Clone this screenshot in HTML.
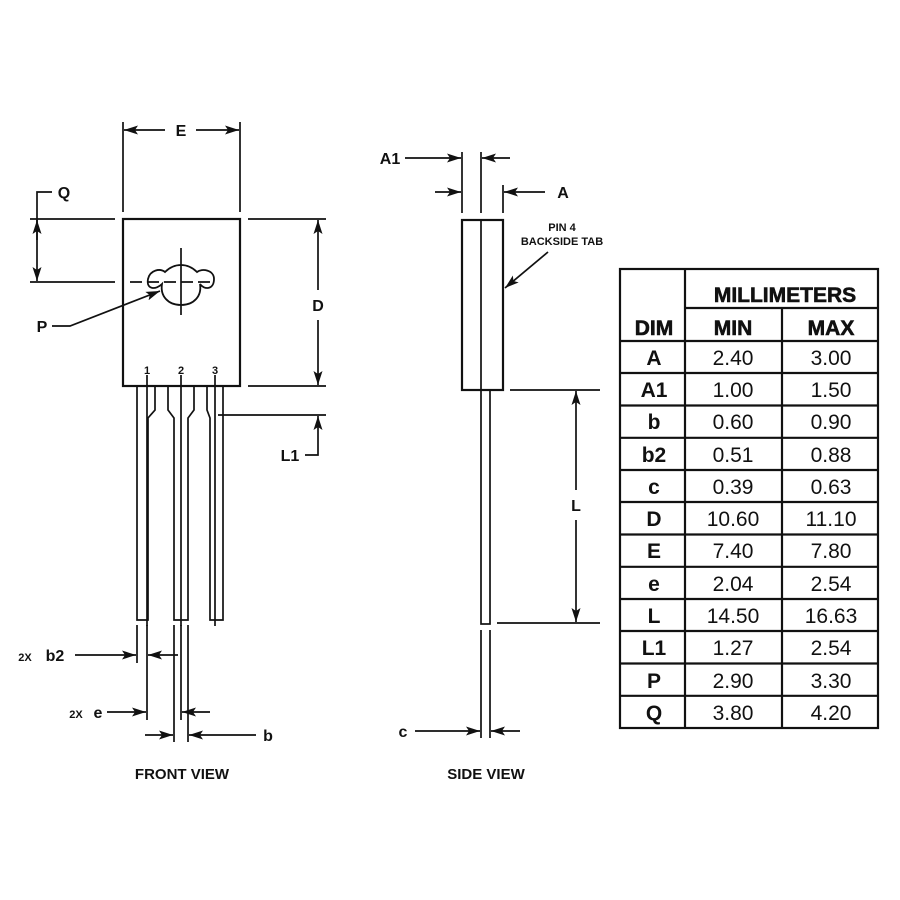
<!DOCTYPE html>
<html><head><style>body{margin:0;background:#fff}svg{display:block}text{font-family:"Liberation Sans",sans-serif;font-weight:bold;fill:#111}</style></head>
<body>
<svg width="900" height="900" viewBox="0 0 900 900" xmlns="http://www.w3.org/2000/svg">
<defs><marker id="ar" markerWidth="14" markerHeight="9" refX="14" refY="4.5" orient="auto" markerUnits="userSpaceOnUse"><path d="M0,0 L14,4.5 L0,9 L3,4.5 Z" fill="#111"/></marker></defs>
<g stroke="#111" stroke-width="1.7" fill="none">
<rect x="123" y="219" width="117" height="167" stroke-width="2.2"/>
<path d="M162,284 C156,290 146,290 148,279 C150,270 160,268 165,272 C170,267 175,265 181,265 C187,265 192,267 197,272 C202,268 214,270 214,279 C214,290 204,290 200,284 C202,296 194,305 181,305 C168,305 160,296 162,284 Z" stroke-width="1.8"/>
<line x1="181" y1="248" x2="181" y2="315"/>
<line x1="30" y1="282" x2="115" y2="282"/>
<line x1="130" y1="282" x2="215" y2="282" stroke-dasharray="12,5"/>
<path d="M137,386 V620 H148 V418 L155,410 V386"/>
<path d="M168,386 V410 L174,418 V620 H188 V418 L194,410 V386"/>
<path d="M207,386 V410 L210,418 V620 H223 V386"/>
<line x1="147" y1="375" x2="147" y2="626"/>
<line x1="181" y1="375" x2="181" y2="626"/>
<line x1="215" y1="375" x2="215" y2="626"/>
<line x1="123" y1="122" x2="123" y2="212"/><line x1="240" y1="122" x2="240" y2="212"/>
<line x1="165" y1="130" x2="124" y2="130" marker-end="url(#ar)"/><line x1="196" y1="130" x2="239" y2="130" marker-end="url(#ar)"/>
<line x1="248" y1="219" x2="326" y2="219"/><line x1="248" y1="386" x2="326" y2="386"/>
<line x1="318" y1="290" x2="318" y2="220" marker-end="url(#ar)"/><line x1="318" y1="320" x2="318" y2="385" marker-end="url(#ar)"/>
<line x1="30" y1="219" x2="115" y2="219"/>
<polyline points="52,192 37,192 37,200"/>
<line x1="37" y1="240" x2="37" y2="220" marker-end="url(#ar)"/><line x1="37" y1="250" x2="37" y2="281" marker-end="url(#ar)"/>
<line x1="37" y1="200" x2="37" y2="250"/>
<polyline points="52,326 70,326 160,291" marker-end="url(#ar)"/>
<line x1="218" y1="415" x2="326" y2="415"/>
<polyline points="305,455 318,455 318,416" marker-end="url(#ar)"/>
<line x1="137" y1="625" x2="137" y2="663"/><line x1="147" y1="625" x2="147" y2="720"/>
<line x1="75" y1="655" x2="136" y2="655" marker-end="url(#ar)"/><line x1="178" y1="655" x2="148" y2="655" marker-end="url(#ar)"/>
<line x1="181" y1="625" x2="181" y2="720"/>
<line x1="107" y1="712" x2="146" y2="712" marker-end="url(#ar)"/><line x1="210" y1="712" x2="182" y2="712" marker-end="url(#ar)"/>
<line x1="174" y1="625" x2="174" y2="742"/><line x1="188" y1="625" x2="188" y2="742"/>
<line x1="145" y1="735" x2="173" y2="735" marker-end="url(#ar)"/><line x1="256" y1="735" x2="189" y2="735" marker-end="url(#ar)"/>
<rect x="462" y="220" width="41" height="170" stroke-width="2.2"/>
<line x1="481" y1="220" x2="481" y2="390"/>
<rect x="481" y="390" width="9" height="234"/>
<line x1="462" y1="152" x2="462" y2="213"/><line x1="481" y1="152" x2="481" y2="213"/><line x1="503" y1="185" x2="503" y2="213"/>
<line x1="405" y1="158" x2="461" y2="158" marker-end="url(#ar)"/><line x1="510" y1="158" x2="482" y2="158" marker-end="url(#ar)"/>
<line x1="435" y1="192" x2="461" y2="192" marker-end="url(#ar)"/><line x1="545" y1="192" x2="504" y2="192" marker-end="url(#ar)"/>
<line x1="548" y1="252" x2="505" y2="288" marker-end="url(#ar)"/>
<line x1="510" y1="390" x2="600" y2="390"/><line x1="497" y1="623" x2="600" y2="623"/>
<line x1="576" y1="490" x2="576" y2="391" marker-end="url(#ar)"/><line x1="576" y1="520" x2="576" y2="622" marker-end="url(#ar)"/>
<line x1="481" y1="630" x2="481" y2="738"/><line x1="490" y1="630" x2="490" y2="738"/>
<line x1="415" y1="731" x2="480" y2="731" marker-end="url(#ar)"/><line x1="520" y1="731" x2="491" y2="731" marker-end="url(#ar)"/>
<rect x="620" y="269" width="258" height="459" stroke-width="2.2"/>
<line x1="685" y1="269" x2="685" y2="728" stroke-width="2.2"/>
<line x1="782" y1="308" x2="782" y2="728" stroke-width="2.2"/>
<line x1="685" y1="308" x2="878" y2="308" stroke-width="2.2"/>
</g>
<g stroke="#111" stroke-width="2.2">
<line x1="620" y1="341" x2="878" y2="341"/><line x1="620" y1="373" x2="878" y2="373"/><line x1="620" y1="405.5" x2="878" y2="405.5"/><line x1="620" y1="437.8" x2="878" y2="437.8"/><line x1="620" y1="470" x2="878" y2="470"/><line x1="620" y1="502" x2="878" y2="502"/><line x1="620" y1="534.5" x2="878" y2="534.5"/><line x1="620" y1="566.8" x2="878" y2="566.8"/><line x1="620" y1="599" x2="878" y2="599"/><line x1="620" y1="631" x2="878" y2="631"/><line x1="620" y1="663.5" x2="878" y2="663.5"/><line x1="620" y1="695.8" x2="878" y2="695.8"/>
</g>
<g font-size="16" text-anchor="middle">
<text x="181" y="136">E</text><text x="318" y="311">D</text><text x="64" y="198">Q</text><text x="42" y="332">P</text><text x="290" y="461">L1</text>
<text x="563" y="198">A</text><text x="390" y="164">A1</text><text x="576" y="511">L</text><text x="403" y="737">c</text><text x="268" y="741">b</text>
<text x="55" y="661">b2</text><text x="98" y="718">e</text>
<text x="182" y="779" font-size="15">FRONT VIEW</text><text x="486" y="779" font-size="15">SIDE VIEW</text>
</g>
<g font-size="11" text-anchor="middle"><text x="25" y="661">2X</text><text x="76" y="718">2X</text>
<text x="147" y="374">1</text><text x="181" y="374">2</text><text x="215" y="374">3</text></g>
<g font-size="11" text-anchor="middle"><text x="562" y="231">PIN 4</text><text x="562" y="245">BACKSIDE TAB</text></g>
<g font-size="21" text-anchor="middle" stroke="#111" stroke-width="0.6">
<text x="785" y="302">MILLIMETERS</text><text x="654" y="335">DIM</text><text x="733" y="335">MIN</text><text x="831" y="335">MAX</text>
</g>
<g font-size="21" text-anchor="middle">
<text x="654" y="365">A</text><text x="733" y="365" style="font-weight:normal">2.40</text><text x="831" y="365" style="font-weight:normal">3.00</text>
<text x="654" y="397">A1</text><text x="733" y="397" style="font-weight:normal">1.00</text><text x="831" y="397" style="font-weight:normal">1.50</text>
<text x="654" y="429">b</text><text x="733" y="429" style="font-weight:normal">0.60</text><text x="831" y="429" style="font-weight:normal">0.90</text>
<text x="654" y="462">b2</text><text x="733" y="462" style="font-weight:normal">0.51</text><text x="831" y="462" style="font-weight:normal">0.88</text>
<text x="654" y="494">c</text><text x="733" y="494" style="font-weight:normal">0.39</text><text x="831" y="494" style="font-weight:normal">0.63</text>
<text x="654" y="526">D</text><text x="733" y="526" style="font-weight:normal">10.60</text><text x="831" y="526" style="font-weight:normal">11.10</text>
<text x="654" y="558">E</text><text x="733" y="558" style="font-weight:normal">7.40</text><text x="831" y="558" style="font-weight:normal">7.80</text>
<text x="654" y="591">e</text><text x="733" y="591" style="font-weight:normal">2.04</text><text x="831" y="591" style="font-weight:normal">2.54</text>
<text x="654" y="623">L</text><text x="733" y="623" style="font-weight:normal">14.50</text><text x="831" y="623" style="font-weight:normal">16.63</text>
<text x="654" y="655">L1</text><text x="733" y="655" style="font-weight:normal">1.27</text><text x="831" y="655" style="font-weight:normal">2.54</text>
<text x="654" y="688">P</text><text x="733" y="688" style="font-weight:normal">2.90</text><text x="831" y="688" style="font-weight:normal">3.30</text>
<text x="654" y="720">Q</text><text x="733" y="720" style="font-weight:normal">3.80</text><text x="831" y="720" style="font-weight:normal">4.20</text>
</g>
</svg>
</body></html>
